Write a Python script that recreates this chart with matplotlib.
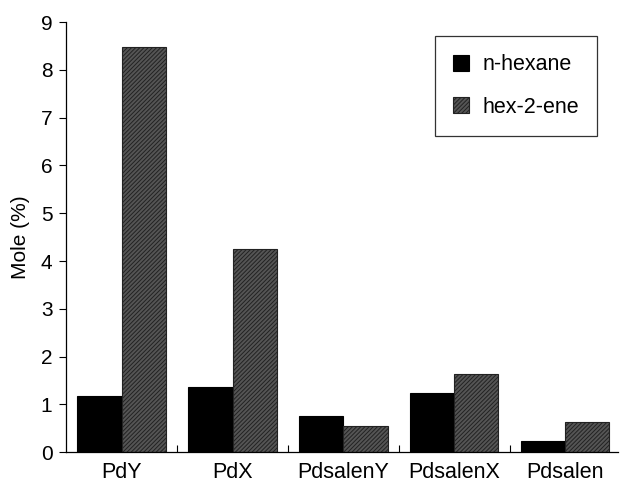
import numpy as np
import matplotlib
matplotlib.use("Agg")
import matplotlib.pyplot as plt

plt.rcParams['font.family'] = ['Liberation Sans', 'DejaVu Sans']
plt.rcParams['hatch.linewidth'] = 0.7

catalysts = ["PdY", "PdX", "PdsalenY", "PdsalenX", "Pdsalen"]
hexane = [1.18, 1.37, 0.75, 1.24, 0.24]      # n-hexane
hexene = [8.48, 4.26, 0.55, 1.63, 0.62]      # hex-2-ene

x = np.arange(len(catalysts))
w = 0.4

fig = plt.figure(figsize=(6.2, 4.82), dpi=100)
ax = fig.add_axes([0.107, 0.062, 0.89, 0.892])

ax.bar(x - w / 2, hexane, w, color="black", edgecolor="black", linewidth=0.8,
       label="n-hexane")
ax.bar(x + w / 2, hexene, w, color="#555555", edgecolor="#222222", hatch="////////",
       linewidth=0.8, label="hex-2-ene")

ax.set_xlim(-0.5, 4.48)
ax.set_ylim(0, 9)
ax.set_yticks(range(10))
ax.set_xticks(x)
ax.set_xticklabels(catalysts)
ax.set_xticks(x[:-1] + 0.5, minor=True)
ax.tick_params(axis="x", which="major", length=0, labelsize=15.5, pad=7)
ax.tick_params(axis="x", which="minor", direction="in", length=5, width=0.8)
ax.tick_params(axis="y", labelsize=15, length=5, width=0.8, pad=5)
ax.set_ylabel("Mole (%)", fontsize=15, labelpad=8)

for s in ["top", "right"]:
    ax.spines[s].set_visible(False)
for s in ["left", "bottom"]:
    ax.spines[s].set_linewidth(0.9)

leg = ax.legend(loc="upper right", bbox_to_anchor=(0.962, 0.968), fontsize=15.5,
                frameon=True, fancybox=False, edgecolor="black",
                handlelength=0.75, handleheight=0.75, borderpad=0.85,
                labelspacing=1.0, handletextpad=0.6, borderaxespad=0.0)
leg.get_frame().set_linewidth(0.9)

fig.savefig("out.png", dpi=100)
